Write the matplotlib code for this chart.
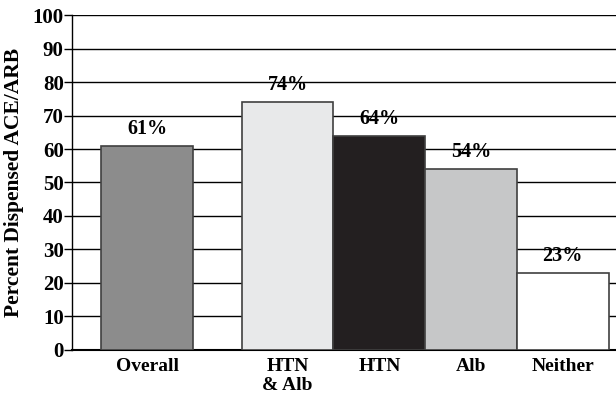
import matplotlib
matplotlib.use("Agg")
import matplotlib.pyplot as plt

# dados do gráfico
categorias = ["Overall", "HTN\n& Alb", "HTN", "Alb", "Neither"]
percentuais = [61, 74, 64, 54, 23]
posicoes = [0, 1.53, 2.53, 3.53, 4.53]
cores = ["#8c8c8c", "#e8e9ea", "#231f20", "#c6c7c8", "#ffffff"]

plt.rcParams["font.family"] = ["Liberation Serif", "DejaVu Serif"]
plt.rcParams["font.weight"] = "bold"

fig = plt.figure(figsize=(6.16, 3.98), dpi=100)
ax = fig.add_axes([0.117, 0.121, 0.883, 0.841])

ax.set_ylim(0, 100)
ax.set_xlim(-0.82, 5.11)
ax.set_yticks(range(0, 101, 10))
ax.yaxis.grid(True, color="black", linewidth=1.0)
ax.set_axisbelow(True)

barras = ax.bar(posicoes, percentuais, width=1.0, color=cores,
                edgecolor="#404040", linewidth=1.2, zorder=3)

for x, v in zip(posicoes, percentuais):
    ax.text(x, v + 2.0, f"{v}%", ha="center", va="bottom",
            fontsize=14.5, fontweight="bold")

ax.set_xticks(posicoes)
ax.set_xticklabels(categorias, fontsize=14, fontweight="bold", linespacing=1.15)
ax.tick_params(axis="x", length=0, pad=6)
ax.tick_params(axis="y", length=6, width=1.0, labelsize=15, pad=0)
for lab in ax.get_yticklabels():
    lab.set_fontweight("bold")

ax.set_ylabel("Percent Dispensed ACE/ARB", fontsize=15.5, fontweight="bold", labelpad=6)

ax.spines["top"].set_visible(False)
ax.spines["right"].set_visible(False)
ax.spines["left"].set_linewidth(1.0)
ax.spines["bottom"].set_linewidth(1.5)

fig.savefig("out.png", dpi=100)
